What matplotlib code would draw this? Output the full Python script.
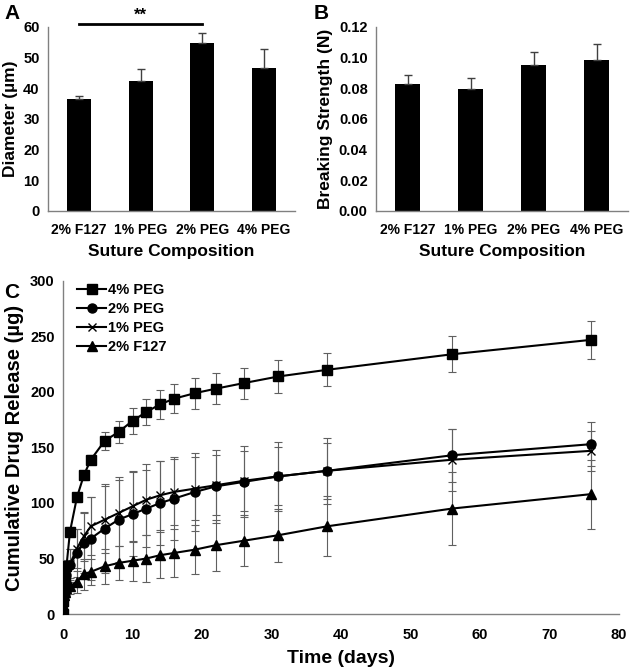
import numpy as np
import matplotlib
matplotlib.use('Agg')
import matplotlib.pyplot as plt

plt.rcParams['font.family'] = ['Liberation Sans', 'DejaVu Sans']
plt.rcParams['font.weight'] = 'bold'

# panel A / B data
groups = ['2% F127', '1% PEG', '2% PEG', '4% PEG']
diameter = [36.6, 42.4, 54.8, 46.6]
diameter_err = [1.0, 3.9, 3.2, 6.2]
strength = [0.083, 0.0793, 0.0954, 0.0987]
strength_err = [0.006, 0.0072, 0.0085, 0.0104]

# panel C data
days = [0, 0.04, 0.125, 0.25, 0.5, 1, 2, 3, 4, 6, 8, 10, 12, 14, 16, 19, 22, 26, 31, 38, 56, 76]
peg4 = [0, 12, 20, 30, 43, 74, 105, 125, 139, 156, 164, 174, 182, 189, 194, 199, 203, 208, 214, 220, 234, 247]
peg4_err = [0, 2, 3, 3, 4, 4, 4, 4, 4, 8, 10, 12, 12, 13, 13, 14, 14, 14, 15, 15, 16, 17]
peg2 = [10, 15, 22, 28, 35, 44, 55, 64, 68, 77, 85, 90, 95, 100, 104, 110, 115, 119, 124, 129, 143, 153]
peg2_err = [3, 5, 8, 10, 12, 15, 22, 27, 37, 40, 38, 38, 35, 38, 37, 35, 33, 32, 31, 30, 24, 20]
peg1 = [10, 15, 22, 30, 38, 45, 59, 70, 79, 85, 91, 97, 103, 107, 110, 113, 116, 120, 124, 129, 139, 147]
peg1_err = [3, 5, 7, 9, 11, 14, 18, 22, 26, 30, 30, 32, 32, 31, 30, 28, 27, 27, 26, 25, 28, 18]
f127 = [8, 12, 17, 20, 23, 25, 29, 36, 38, 43, 46, 48, 50, 53, 55, 58, 62, 66, 71, 79, 95, 108]
f127_err = [2, 3, 4, 5, 6, 7, 10, 14, 12, 16, 15, 18, 21, 21, 22, 22, 23, 23, 24, 27, 33, 31]

W, H = 630, 670
fig = plt.figure(figsize=(W / 100, H / 100), dpi=100)


def px_axes(l, t, r, b):
    return fig.add_axes([l / W, 1 - b / H, (r - l) / W, (b - t) / H])


def style(ax, xsize=10.5, xpad=6):
    for s in ['top', 'right']:
        ax.spines[s].set_visible(False)
    for s in ['left', 'bottom']:
        ax.spines[s].set_color('#808080')
        ax.spines[s].set_linewidth(1.0)
    ax.tick_params(length=0, labelsize=10.5, pad=6)
    ax.tick_params(axis='x', labelsize=xsize, pad=xpad)
    for lab in ax.get_xticklabels() + ax.get_yticklabels():
        lab.set_fontweight('bold')


# A
axA = px_axes(48, 27, 295, 211)
x = np.arange(len(groups))
axA.bar(x, diameter, width=0.39, color='black',
        yerr=[np.zeros(4), diameter_err], ecolor='#404040',
        error_kw=dict(capsize=3, elinewidth=1, capthick=1))
axA.set_xlim(-0.5, 3.5)
axA.set_ylim(0, 60)
axA.set_yticks(range(0, 61, 10))
axA.set_xticks(x)
axA.set_xticklabels(groups)
axA.set_ylabel('Diameter (µm)', fontsize=12.5, fontweight='bold', labelpad=4)
axA.set_xlabel('Suture Composition', fontsize=12.5, fontweight='bold', labelpad=5)
axA.plot([0, 2], [61, 61], color='black', lw=2, clip_on=False)
axA.text(1, 61.3, '**', ha='center', va='bottom', fontsize=12, fontweight='bold')
style(axA, 10, 9)

# B
axB = px_axes(376, 27, 628, 211)
axB.bar(x, strength, width=0.39, color='black',
        yerr=[np.zeros(4), strength_err], ecolor='#404040',
        error_kw=dict(capsize=3, elinewidth=1, capthick=1))
axB.set_xlim(-0.5, 3.5)
axB.set_ylim(0, 0.12)
axB.set_yticks(np.arange(0, 0.121, 0.02))
axB.yaxis.set_major_formatter(matplotlib.ticker.FormatStrFormatter('%.2f'))
axB.set_xticks(x)
axB.set_xticklabels(groups)
axB.set_ylabel('Breaking Strength (N)', fontsize=12.5, fontweight='bold', labelpad=4)
axB.set_xlabel('Suture Composition', fontsize=12.5, fontweight='bold', labelpad=5)
style(axB, 10, 9)

# C
axC = px_axes(63, 281, 619, 614)
series = [
    ('4% PEG', peg4, peg4_err, 's', 7),
    ('2% PEG', peg2, peg2_err, 'o', 6.5),
    ('1% PEG', peg1, peg1_err, 'x', 5.5),
    ('2% F127', f127, f127_err, '^', 6.5),
]
for name, y, e, m, ms in series:
    axC.errorbar(days, y, yerr=e, fmt='none', ecolor='#606060',
                 elinewidth=0.8, capsize=3, capthick=0.8)
for name, y, e, m, ms in series:
    axC.plot(days, y, color='black', lw=1.5, marker=m, ms=ms,
             mew=1.0, label=name, zorder=3)
axC.set_xlim(0, 80)
axC.set_ylim(0, 300)
axC.set_xticks(range(0, 81, 10))
axC.set_yticks(range(0, 301, 50))
axC.set_xlabel('Time (days)', fontsize=14, fontweight='bold', labelpad=6)
axC.set_ylabel('Cumulative Drug Release (µg)', fontsize=14.5, fontweight='bold', labelpad=4)
leg = axC.legend(loc='upper left', frameon=False, fontsize=10.5,
                 handlelength=2.0, handletextpad=0.1, labelspacing=0.35,
                 borderaxespad=0.2, bbox_to_anchor=(0.01, 1.02))
for t in leg.get_texts():
    t.set_fontweight('bold')
style(axC, 10.5, 10)

fig.text(4 / W, 1 - 4 / H, 'A', fontsize=15, fontweight='bold', va='top')
fig.text(314 / W, 1 - 4 / H, 'B', fontsize=15, fontweight='bold', va='top')
fig.text(4 / W, 1 - 283 / H, 'C', fontsize=15, fontweight='bold', va='top')

fig.savefig('out.png', dpi=100)
